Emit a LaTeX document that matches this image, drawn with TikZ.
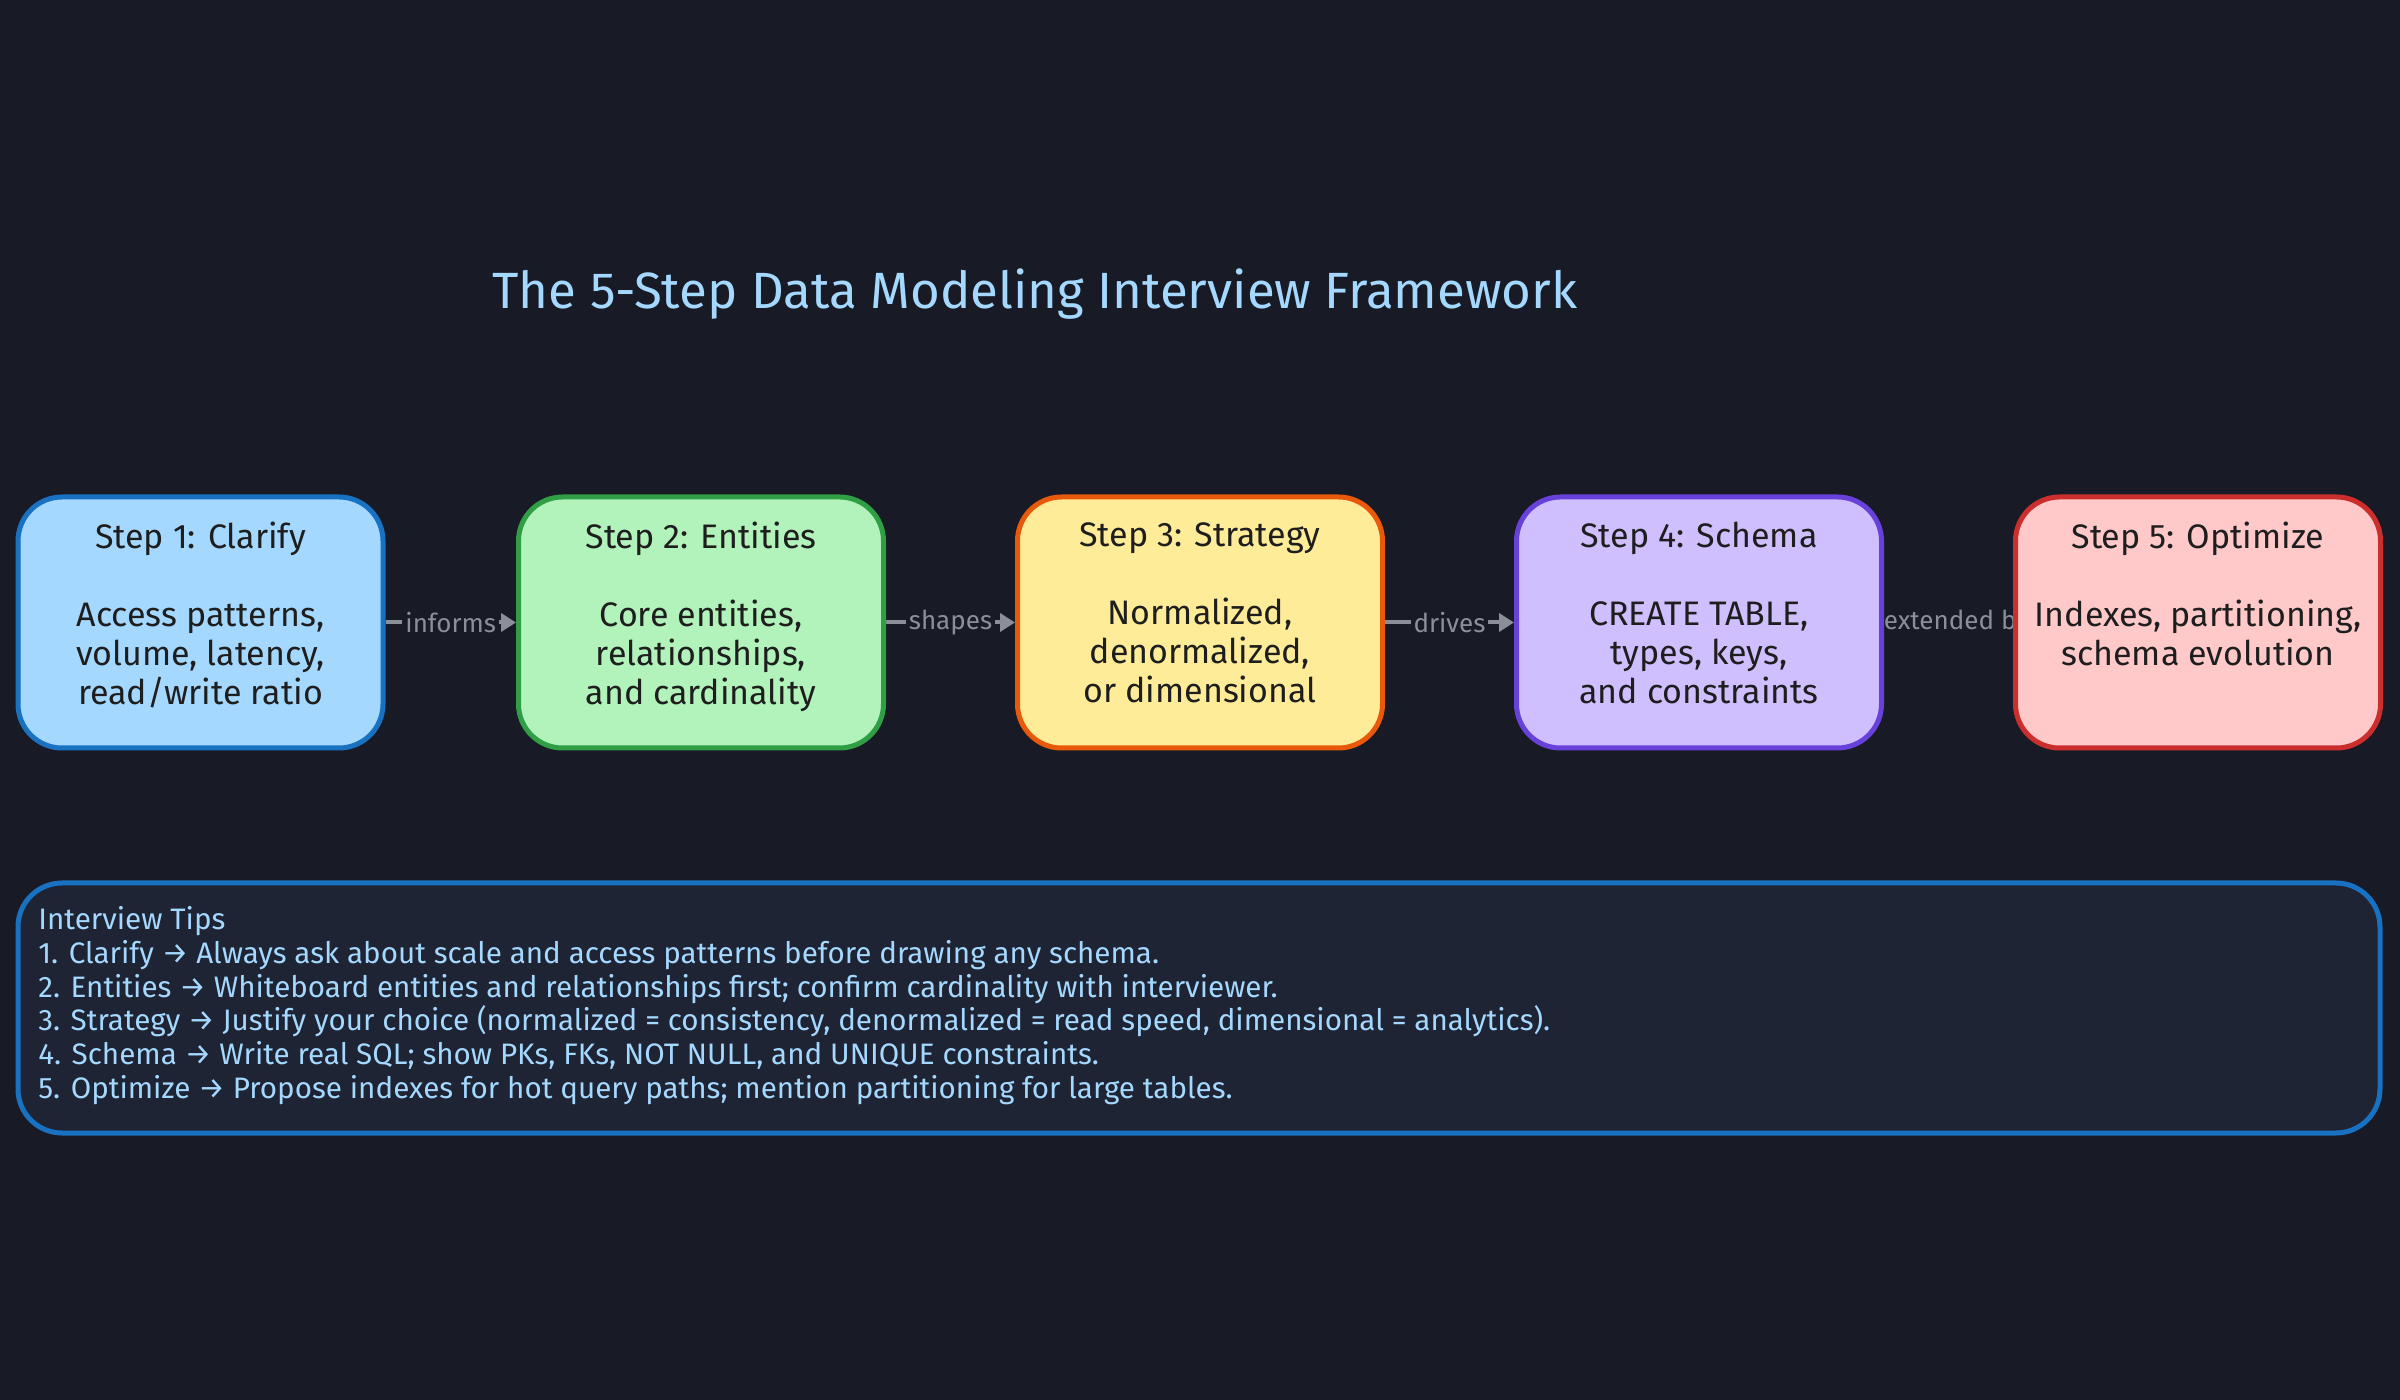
\documentclass[tikz,border=0pt]{standalone}
\usepackage{fontspec}
\setmainfont{Fira Sans}
\usetikzlibrary{arrows.meta}
\definecolor{bg}{HTML}{181A25}
\definecolor{tipsfill}{HTML}{1E2433}
\definecolor{titlecol}{HTML}{A5D8FF}
\definecolor{inkcol}{HTML}{1E1E1E}
\definecolor{edgecol}{HTML}{8A8F98}
\definecolor{fillA}{HTML}{A5D8FF}\definecolor{drawA}{HTML}{1971C2}
\definecolor{fillB}{HTML}{B2F2BB}\definecolor{drawB}{HTML}{2F9E44}
\definecolor{fillC}{HTML}{FFEC99}\definecolor{drawC}{HTML}{E8590C}
\definecolor{fillD}{HTML}{D0BFFF}\definecolor{drawD}{HTML}{6741D9}
\definecolor{fillE}{HTML}{FFC9C9}\definecolor{drawE}{HTML}{CC2E2E}
\pgfdeclarelayer{bglayer}\pgfdeclarelayer{edges}
\pgfsetlayers{bglayer,edges,main}
\tikzset{
  stepbox/.style={rounded corners=22pt, line width=2.5pt, minimum width=182.5pt, minimum height=125.5pt, inner sep=0pt},
  steptext/.style={anchor=north, align=center, text=inkcol, font=\fontsize{17}{19.5}\selectfont, inner sep=0pt},
  conn/.style={draw=edgecol, line width=2pt, -{Triangle[length=7.5pt,width=9pt]}},
  lbl/.style={fill=bg, text=edgecol, font=\fontsize{13}{14}\selectfont, inner sep=1.5pt},
}
\begin{document}
\begin{tikzpicture}[x=0.5pt,y=-0.5pt]
\begin{pgfonlayer}{bglayer}
\fill[bg] (0,0) rectangle (2400,1400);
\end{pgfonlayer}
\useasboundingbox (0,0) rectangle (2400,1400);

\node[text=titlecol, font=\fontsize{25.5}{29}\selectfont, inner sep=0pt] (title) at (1035,294) {The 5-Step Data Modeling Interview Framework};

\node[stepbox, fill=fillA, draw=drawA] (b1) at (200.5,622.5) {};
\node[stepbox, fill=fillB, draw=drawB] (b2) at (701,622.5) {};
\node[stepbox, fill=fillC, draw=drawC] (b3) at (1200,622.5) {};
\node[stepbox, fill=fillD, draw=drawD] (b4) at (1699,622.5) {};
\node[stepbox, fill=fillE, draw=drawE] (b5) at (2198,622.5) {};

\node[steptext] (t1) at (200.5,522) {Step 1: Clarify\\[19.5pt]Access patterns,\\volume, latency,\\read/write ratio};
\node[steptext] (t2) at (701,522) {Step 2: Entities\\[19.5pt]Core entities,\\relationships,\\and cardinality};
\node[steptext] (t3) at (1200,522) {Step 3: Strategy\\[19.5pt]Normalized,\\denormalized,\\or dimensional};
\node[steptext] (t4) at (1699,522) {Step 4: Schema\\[19.5pt]CREATE TABLE,\\types, keys,\\and constraints};
\node[steptext] (t5) at (2198,522) {Step 5: Optimize\\[19.5pt]Indexes, partitioning,\\schema evolution};

\begin{pgfonlayer}{edges}
\draw[conn] (b1) -- node[lbl] (l1) {informs} (b2);
\draw[conn] (b2) -- node[lbl] (l2) {shapes} (b3);
\draw[conn] (b3) -- node[lbl] (l3) {drives} (b4);
\draw[conn] (b4) -- node[lbl, xshift=4pt] (l4) {extended by} (b5);
\end{pgfonlayer}

\node[rounded corners=22pt, line width=2.5pt, fill=tipsfill, draw=drawA, minimum width=1181pt, minimum height=125pt, inner sep=0pt] (tips) at (1199,1008) {};
\node[anchor=north west, align=left, text=titlecol, font=\fontsize{14.8}{16.9}\selectfont, inner sep=0pt] (tipstext) at (38,906) {Interview Tips\\
1. Clarify → Always ask about scale and access patterns before drawing any schema.\\
2. Entities → Whiteboard entities and relationships first; confirm cardinality with interviewer.\\
3. Strategy → Justify your choice (normalized = consistency, denormalized = read speed, dimensional = analytics).\\
4. Schema → Write real SQL; show PKs, FKs, NOT NULL, and UNIQUE constraints.\\
5. Optimize → Propose indexes for hot query paths; mention partitioning for large tables.};
\end{tikzpicture}
\end{document}
